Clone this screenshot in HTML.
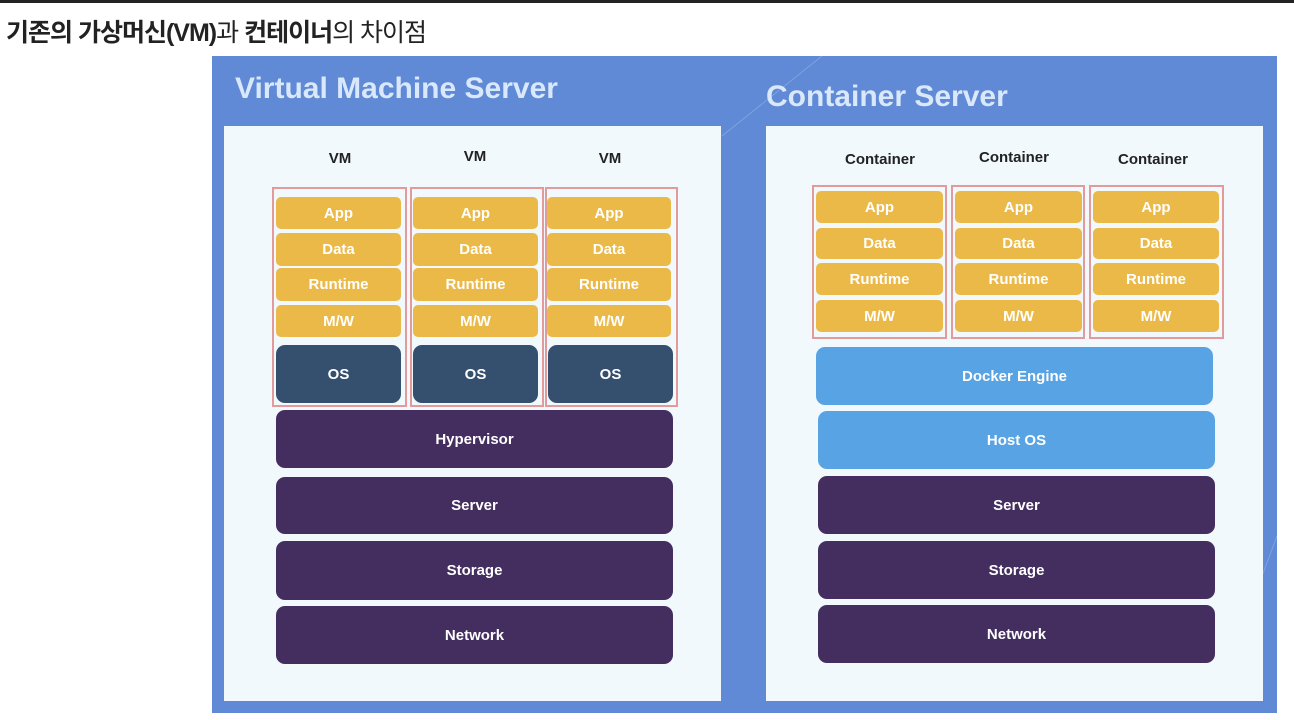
<!DOCTYPE html>
<html><head><meta charset="utf-8"><style>
*{margin:0;padding:0;box-sizing:border-box}
body{width:1294px;height:720px;background:#fff;position:relative;overflow:hidden;font-family:"Liberation Sans","Noto Sans CJK KR",sans-serif}
.a{position:absolute}
.b{position:absolute;display:flex;align-items:center;justify-content:center;color:#fff;font-weight:bold;font-size:15px;border-radius:7px}
.y{background:#ebb948;border-radius:5px}
.os{background:#34506e;border-radius:9px}
.p{background:#442e5f;border-radius:9px}
.l{background:#57a3e3;border-radius:9px}
.r{position:absolute;border:2px solid #e29a9a}
.h{position:absolute;font-size:15px;font-weight:bold;color:#222;text-align:center}
</style></head><body>
<div class="a" style="left:0;top:0;width:1294px;height:3px;background:#222"></div>
<div class="a" style="left:6px;top:13px;font-size:25px;font-weight:bold;color:#222;letter-spacing:-1px">기존의 가상머신(VM)<span style="font-weight:normal">과</span> 컨테이너<span style="font-weight:normal">의 차이점</span></div>
<div class="a" style="left:212px;top:56px;width:1065px;height:657px;background:#6089d6"></div>
<svg class="a" style="left:212px;top:56px" width="1065" height="657"><line x1="510" y1="80" x2="610" y2="0" stroke="#7fa2e0" stroke-width="1"/><line x1="1050" y1="520" x2="1065" y2="480" stroke="#7fa2e0"/></svg>
<div class="a" style="left:235px;top:72px;font-size:30px;font-weight:bold;color:#d9e8fb">Virtual Machine Server</div>
<div class="a" style="left:766px;top:80px;font-size:30px;font-weight:bold;color:#d9e8fb">Container Server</div>
<div class="a" style="left:224px;top:126px;width:497px;height:575px;background:#f2f9fd"></div>
<div class="a" style="left:766px;top:126px;width:497px;height:575px;background:#f2f9fd"></div>

<div class="h" style="left:310px;top:150px;width:60px">VM</div>
<div class="h" style="left:445px;top:148px;width:60px">VM</div>
<div class="h" style="left:580px;top:150px;width:60px">VM</div>
<div class="r" style="left:272px;top:187px;width:135px;height:220px"></div>
<div class="r" style="left:410px;top:187px;width:134px;height:220px"></div>
<div class="r" style="left:545px;top:187px;width:133px;height:220px"></div>

<div class="b y" style="left:276px;top:197px;width:125px;height:32px">App</div>
<div class="b y" style="left:276px;top:233px;width:125px;height:33px">Data</div>
<div class="b y" style="left:276px;top:268px;width:125px;height:33px">Runtime</div>
<div class="b y" style="left:276px;top:305px;width:125px;height:32px">M/W</div>
<div class="b y" style="left:413px;top:197px;width:125px;height:32px">App</div>
<div class="b y" style="left:413px;top:233px;width:125px;height:33px">Data</div>
<div class="b y" style="left:413px;top:268px;width:125px;height:33px">Runtime</div>
<div class="b y" style="left:413px;top:305px;width:125px;height:32px">M/W</div>
<div class="b y" style="left:547px;top:197px;width:124px;height:32px">App</div>
<div class="b y" style="left:547px;top:233px;width:124px;height:33px">Data</div>
<div class="b y" style="left:547px;top:268px;width:124px;height:33px">Runtime</div>
<div class="b y" style="left:547px;top:305px;width:124px;height:32px">M/W</div>
<div class="b os" style="left:276px;top:345px;width:125px;height:58px">OS</div>
<div class="b os" style="left:413px;top:345px;width:125px;height:58px">OS</div>
<div class="b os" style="left:548px;top:345px;width:125px;height:58px">OS</div>
<div class="b p" style="left:276px;top:410px;width:397px;height:58px">Hypervisor</div>
<div class="b p" style="left:276px;top:477px;width:397px;height:57px">Server</div>
<div class="b p" style="left:276px;top:541px;width:397px;height:59px">Storage</div>
<div class="b p" style="left:276px;top:606px;width:397px;height:58px">Network</div>

<div class="h" style="left:830px;top:151px;width:100px">Container</div>
<div class="h" style="left:964px;top:149px;width:100px">Container</div>
<div class="h" style="left:1103px;top:151px;width:100px">Container</div>
<div class="r" style="left:812px;top:185px;width:135px;height:154px"></div>
<div class="r" style="left:951px;top:185px;width:134px;height:154px"></div>
<div class="r" style="left:1089px;top:185px;width:135px;height:154px"></div>
<div class="b y" style="left:816px;top:191px;width:127px;height:32px">App</div>
<div class="b y" style="left:816px;top:228px;width:127px;height:31px">Data</div>
<div class="b y" style="left:816px;top:263px;width:127px;height:32px">Runtime</div>
<div class="b y" style="left:816px;top:300px;width:127px;height:32px">M/W</div>
<div class="b y" style="left:955px;top:191px;width:127px;height:32px">App</div>
<div class="b y" style="left:955px;top:228px;width:127px;height:31px">Data</div>
<div class="b y" style="left:955px;top:263px;width:127px;height:32px">Runtime</div>
<div class="b y" style="left:955px;top:300px;width:127px;height:32px">M/W</div>
<div class="b y" style="left:1093px;top:191px;width:126px;height:32px">App</div>
<div class="b y" style="left:1093px;top:228px;width:126px;height:31px">Data</div>
<div class="b y" style="left:1093px;top:263px;width:126px;height:32px">Runtime</div>
<div class="b y" style="left:1093px;top:300px;width:126px;height:32px">M/W</div>
<div class="b l" style="left:816px;top:347px;width:397px;height:58px">Docker Engine</div>
<div class="b l" style="left:818px;top:411px;width:397px;height:58px">Host OS</div>
<div class="b p" style="left:818px;top:476px;width:397px;height:58px">Server</div>
<div class="b p" style="left:818px;top:541px;width:397px;height:58px">Storage</div>
<div class="b p" style="left:818px;top:605px;width:397px;height:58px">Network</div>
</body></html>
